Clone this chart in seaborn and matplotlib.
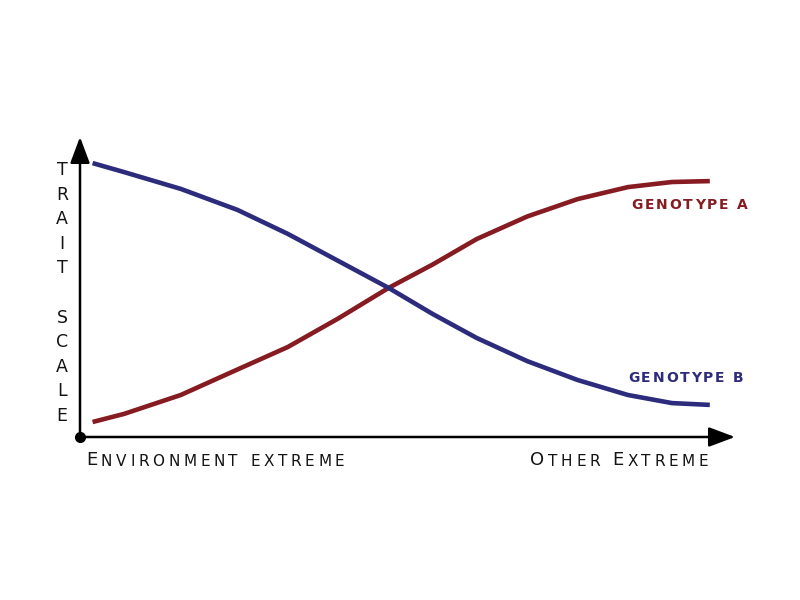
import matplotlib
matplotlib.use("Agg")
import matplotlib.pyplot as plt
import seaborn as sns
import pandas as pd

# ---- data ----
environment = [0.2, 0.7, 1.6, 2.5, 3.3, 4.1, 4.9, 5.6, 6.3, 7.1, 7.9, 8.7, 9.4, 10.0]
genotype_a = [0.50, 0.77, 1.40, 2.25, 3.00, 3.95, 4.97, 5.75, 6.60, 7.35, 7.93, 8.33, 8.50, 8.53]
genotype_b = [9.13, 8.83, 8.27, 7.57, 6.77, 5.87, 4.97, 4.10, 3.30, 2.53, 1.90, 1.40, 1.13, 1.07]
series_names = ["GENOTYPE A", "GENOTYPE B"]
x_labels = [[("E", 13), ("NVIRONMENT EXTREME", 11)],
            [("O", 13), ("THER ", 11), ("E", 13), ("XTREME", 11)]]
y_label = "TRAIT SCALE"

RED = "#861b22"
BLUE = "#2c2b7c"
INK = "#141414"

sns.set_theme(style="white")
plt.rcParams["font.family"] = ["DejaVu Sans"]

df = pd.DataFrame({
    "env": environment * 2,
    "trait": genotype_a + genotype_b,
    "genotype": [series_names[0]] * len(environment) + [series_names[1]] * len(environment),
})

fig = plt.figure(figsize=(8, 6), dpi=100)
ax = fig.add_axes([80 / 800, 163 / 600, 655 / 800, 300 / 600])
sns.lineplot(data=df, x="env", y="trait", hue="genotype",
             palette=[RED, BLUE], linewidth=3.3, legend=False, ax=ax,
             sort=False)
for l in ax.lines:
    l.set_solid_capstyle("butt")
    l.set_solid_joinstyle("round")
ax.set_xlim(0, 10.4)
ax.set_ylim(0, 10)
ax.axis("off")

# axes arrows
arrow = dict(arrowstyle="-|>,head_length=0.8,head_width=0.3", lw=1.8,
             color="black", mutation_scale=20, shrinkA=0, shrinkB=0)
ax.annotate("", xy=(1, 0), xytext=(0, 0), xycoords="axes fraction",
            arrowprops=arrow, annotation_clip=False)
ax.annotate("", xy=(0, 1), xytext=(0, 0), xycoords="axes fraction",
            arrowprops=arrow, annotation_clip=False)
ax.plot([0], [0], "o", color="black", ms=7, clip_on=False)


def tracked(ax, x, y, segments, color, tracking=1.6, weight="normal", coords="axes fraction"):
    prev = None
    for text, size in segments:
        for ch in text:
            if prev is None:
                prev = ax.annotate(ch, xy=(x, y), xycoords=coords, fontsize=size,
                                   color=color, weight=weight, ha="left", va="bottom",
                                   annotation_clip=False)
            else:
                prev = ax.annotate(ch, xy=(1, 0), xycoords=prev, xytext=(tracking, 0),
                                   textcoords="offset points", fontsize=size,
                                   color=color, weight=weight, ha="left", va="bottom",
                                   annotation_clip=False)


tracked(ax, (86 - 80) / 655, -(469 - 437) / 300, x_labels[0], INK, tracking=2.65)
tracked(ax, (530 - 80) / 655, -(469 - 437) / 300, x_labels[1], INK, tracking=2.65)

tracked(ax, 8.76, 7.50, [(series_names[0], 10)], RED, tracking=1.3, weight="bold", coords="data")
tracked(ax, 8.70, 1.73, [(series_names[1], 10)], BLUE, tracking=1.3, weight="bold", coords="data")

ax.text(-18 / 655, (437 - 293) / 300, "\n".join(y_label),
        transform=ax.transAxes, ha="center", va="center", fontsize=12.5,
        color=INK, linespacing=1.47)

fig.savefig("out.png", dpi=100, facecolor="white")
